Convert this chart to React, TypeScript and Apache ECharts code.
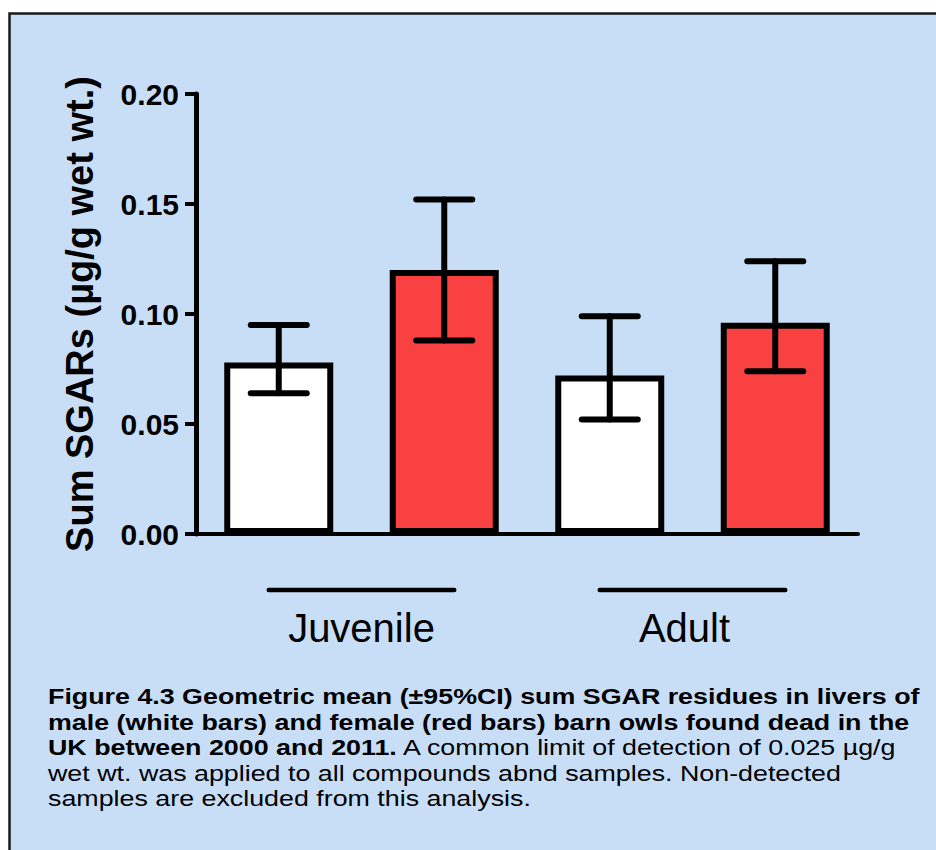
import React, { useEffect, useRef } from "react";
import * as echarts from "echarts";

// Bar slots along the x axis: male / female within each age class
const slots = ["Juvenile male", "Juvenile female", "Adult male", "Adult female"];
const ageClasses = ["Juvenile", "Adult"];

// Geometric means (µg/g wet wt.) with 95% CI bounds
const maleMean = [0.078, 0.072];
const maleLow = [0.064, 0.052];
const maleHigh = [0.095, 0.099];
const femaleMean = [0.12, 0.096];
const femaleLow = [0.088, 0.074];
const femaleHigh = [0.152, 0.124];

const yTicks = [0, 0.05, 0.1, 0.15, 0.2];

const captionLines = [
  "{b|Figure 4.3 Geometric mean (±95%CI) sum SGAR residues in livers of}",
  "{b|male (white bars) and female (red bars) barn owls found dead in the}",
  "{b|UK between 2000 and 2011.}{n| A common limit of detection of 0.025 µg/g}",
  "{n|wet wt. was applied to all compounds abnd samples. Non-detected}",
  "{n|samples are excluded from this analysis.}",
];

const FONT = "'Liberation Sans', Arial, Helvetica, sans-serif";
const PANEL = "#c8def7";
const RED = "#f94141";

export default function App() {
  const ref = useRef<HTMLDivElement>(null);

  useEffect(() => {
    if (!ref.current) return;
    const chart = echarts.init(ref.current, undefined, { renderer: "svg" });

    const maleData = slots.map((_, i) => (i % 2 === 0 ? maleMean[i / 2] : "-"));
    const femaleData = slots.map((_, i) => (i % 2 === 1 ? femaleMean[(i - 1) / 2] : "-"));
    const ciRows: number[][] = [];
    ageClasses.forEach((_, g) => {
      ciRows.push([g * 2, maleLow[g], maleHigh[g]]);
      ciRows.push([g * 2 + 1, femaleLow[g], femaleHigh[g]]);
    });
    const groupRows = ageClasses.map((_, g) => [g * 2, g * 2 + 1]);

    const barStyle = (fill: string) => ({
      color: fill,
      borderColor: "#000",
      borderWidth: 6,
    });

    chart.setOption({
      animation: false,
      backgroundColor: "#fff",
      textStyle: { fontFamily: FONT },
      graphic: [
        {
          type: "rect",
          z: -10,
          silent: true,
          shape: { x: 9.5, y: 13.5, width: 960, height: 860 },
          style: { fill: PANEL, stroke: "#1a1a1a", lineWidth: 2.5 },
        },
        {
          type: "text",
          x: 48,
          y: 684,
          scaleX: 1.22,
          style: {
            text: captionLines.join("\n"),
            fill: "#000",
            fontSize: 22,
            fontFamily: FONT,
            rich: {
              b: { fontFamily: FONT, fontSize: 22, fontWeight: "bold", lineHeight: 25.5, fill: "#000" },
              n: { fontFamily: FONT, fontSize: 22, lineHeight: 25.5, fill: "#000" },
            },
          },
        },
      ],
      grid: { left: 196, right: 78, top: 94, bottom: 316, containLabel: false },
      xAxis: [
        {
          type: "category",
          data: slots,
          axisLine: { lineStyle: { color: "#000", width: 4 } },
          axisTick: { alignWithLabel: true, length: 15, lineStyle: { color: "#000", width: 3.5 } },
          axisLabel: { show: false },
        },
        {
          type: "category",
          data: [
            "Juvenile",
            { value: "Adult", textStyle: { padding: [0, 16, 0, 0] } },
          ],
          position: "bottom",
          axisLine: { show: false },
          axisTick: { show: false },
          axisLabel: { fontSize: 40, color: "#000", margin: 74, fontFamily: FONT },
        },
      ],
      yAxis: {
        type: "value",
        min: 0,
        max: 0.2,
        interval: 0.05,
        name: "Sum SGARs (µg/g wet wt.)",
        nameLocation: "middle",
        nameGap: 97,
        nameTextStyle: { fontSize: 38, fontWeight: "bold", color: "#000", fontFamily: FONT },
        axisLine: { show: true, lineStyle: { color: "#000", width: 5 } },
        axisTick: { show: true, length: 11, lineStyle: { color: "#000", width: 4 } },
        splitLine: { show: false },
        axisLabel: {
          fontSize: 30,
          fontWeight: "bold",
          color: "#000",
          margin: 17,
          fontFamily: FONT,
          formatter: (v: number) => (yTicks.some((t) => Math.abs(t - v) < 1e-9) ? v.toFixed(2) : ""),
        },
      },
      series: [
        {
          name: "Male",
          type: "bar",
          data: maleData,
          barWidth: 109,
          barGap: "-100%",
          itemStyle: barStyle("#ffffff"),
        },
        {
          name: "Female",
          type: "bar",
          data: femaleData,
          barWidth: 109,
          barGap: "-100%",
          itemStyle: barStyle(RED),
        },
        {
          name: "95% CI",
          type: "custom",
          z: 5,
          data: ciRows,
          encode: { x: 0, y: [1, 2] },
          renderItem: (_params: any, api: any) => {
            const lo = api.coord([api.value(0), api.value(1)]);
            const hi = api.coord([api.value(0), api.value(2)]);
            const half = 28;
            const style = { stroke: "#000", lineWidth: 6, lineCap: "round" };
            return {
              type: "group",
              children: [
                { type: "line", shape: { x1: hi[0], y1: hi[1], x2: lo[0], y2: lo[1] }, style },
                { type: "line", shape: { x1: hi[0] - half, y1: hi[1], x2: hi[0] + half, y2: hi[1] }, style },
                { type: "line", shape: { x1: lo[0] - half, y1: lo[1], x2: lo[0] + half, y2: lo[1] }, style },
              ],
            };
          },
        },
        {
          name: "Age class rule",
          type: "custom",
          clip: false,
          data: groupRows,
          encode: { x: [0, 1] },
          renderItem: (_params: any, api: any) => {
            const a = api.coord([api.value(0), 0]);
            const b = api.coord([api.value(1), 0]);
            const y = a[1] + 56;
            return {
              type: "line",
              shape: { x1: a[0] - 10, y1: y, x2: b[0] + 10, y2: y },
              style: { stroke: "#000", lineWidth: 4.5, lineCap: "round" },
            };
          },
        },
      ],
    });

    return () => chart.dispose();
  }, []);

  return (
    <div
      ref={ref}
      style={{ position: "absolute", left: 0, top: 0, width: 936, height: 850 }}
    />
  );
}
